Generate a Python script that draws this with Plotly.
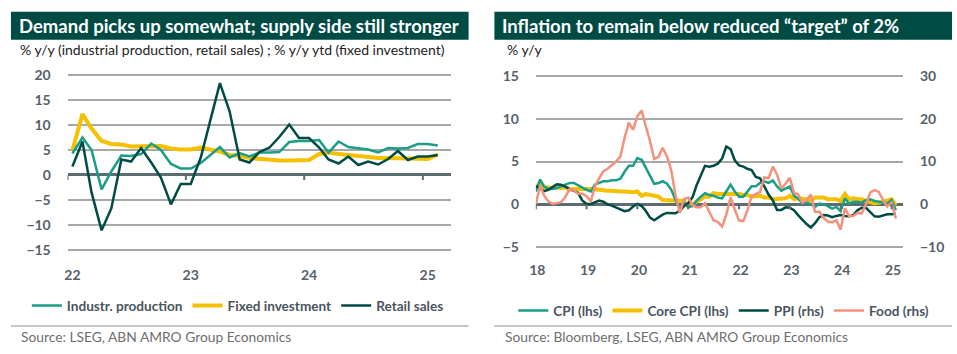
import plotly.graph_objects as go

W, H = 957, 354

# ---------------- data: left chart (China activity) ----------------
left_months = [f"{y}-{m:02d}-16" for y in range(2022, 2026) for m in range(1, 13)][:38]
industr_production = [4.3, 7.5, 5.0, -2.9, 0.7, 3.9, 3.8, 4.2, 6.3, 5.0, 2.2, 1.3,
                      1.3, 2.4, 3.9, 5.6, 3.5, 4.4, 3.7, 4.5, 4.5, 4.6, 6.6, 6.8,
                      6.8, 7.0, 4.5, 6.7, 5.6, 5.3, 5.1, 4.5, 5.4, 5.3, 5.4, 6.2,
                      6.2, 5.9]
fixed_investment = [4.9, 12.2, 9.3, 6.8, 6.2, 6.1, 5.7, 5.8, 5.9, 5.8, 5.3, 5.1,
                    5.1, 5.5, 5.1, 4.7, 4.0, 3.8, 3.4, 3.2, 3.1, 2.9, 2.9, 3.0,
                    3.0, 4.2, 4.5, 4.2, 4.0, 3.9, 3.6, 3.4, 3.4, 3.4, 3.3, 3.2,
                    3.2, 4.1]
retail_sales = [1.7, 6.7, -3.5, -11.1, -6.7, 3.1, 2.7, 5.4, 2.5, -0.5, -5.9, -1.8,
                -1.8, 3.5, 10.6, 18.4, 12.7, 3.1, 2.5, 4.6, 5.5, 7.6, 10.1, 7.4,
                7.4, 5.5, 3.1, 2.3, 3.7, 2.0, 2.7, 2.1, 3.2, 4.8, 3.0, 3.7,
                3.7, 4.0]
left_years = ["2022", "2023", "2024", "2025"]
left_ticktext = ["22", "23", "24", "25"]
left_yticks = [-15, -10, -5, 0, 5, 10, 15, 20]

# ---------------- data: right chart (China inflation) ----------------
right_months = [f"{y}-{m:02d}-01" for y in range(2018, 2026) for m in range(1, 13)][:86]
cpi = [1.5, 2.9, 2.1, 1.8, 1.8, 1.9, 2.1, 2.3, 2.5, 2.5, 2.2, 1.9,
       1.7, 1.5, 2.3, 2.5, 2.7, 2.7, 2.8, 2.8, 3.0, 3.8, 4.5, 4.5,
       5.4, 5.2, 4.3, 3.3, 2.4, 2.5, 2.7, 2.4, 1.7, 0.5, -0.5, 0.2,
       -0.3, -0.2, 0.4, 0.9, 1.3, 1.1, 1.0, 0.8, 0.7, 1.5, 2.3, 1.5,
       0.9, 0.9, 1.5, 2.1, 2.1, 2.5, 2.7, 2.5, 2.8, 2.1, 1.6, 1.8,
       2.1, 1.0, 0.7, 0.1, 0.2, 0.0, -0.3, 0.1, 0.0, -0.2, -0.5, -0.3,
       -0.8, 0.7, 0.1, 0.3, 0.3, 0.2, 0.5, 0.6, 0.4, 0.3, 0.2, 0.1,
       0.5, -0.7]
core_cpi = [1.9, 2.5, 2.0, 1.9, 1.9, 2.0, 1.9, 2.0, 1.7, 1.8, 1.8, 1.8,
            1.9, 1.8, 1.8, 1.7, 1.6, 1.6, 1.6, 1.5, 1.5, 1.5, 1.4, 1.4,
            1.5, 1.0, 1.2, 1.1, 1.1, 0.9, 0.5, 0.5, 0.5, 0.5, 0.5, 0.4,
            -0.3, 0.0, 0.3, 0.7, 0.9, 0.9, 1.3, 1.2, 1.2, 1.3, 1.2, 1.2,
            1.2, 1.1, 1.1, 0.9, 0.9, 1.0, 0.8, 0.8, 0.6, 0.6, 0.6, 0.7,
            1.0, 0.6, 0.7, 0.7, 0.6, 0.4, 0.8, 0.8, 0.8, 0.6, 0.6, 0.6,
            0.4, 1.2, 0.6, 0.7, 0.6, 0.6, 0.4, 0.3, 0.1, 0.2, 0.3, 0.4,
            0.6, -0.1]
ppi = [4.3, 3.7, 3.1, 3.4, 4.1, 4.7, 4.6, 4.1, 3.6, 3.3, 2.7, 0.9,
       0.1, 0.1, 0.4, 0.9, 0.6, 0.0, -0.3, -0.8, -1.2, -1.6, -1.4, -0.5,
       0.1, -0.4, -1.5, -3.1, -3.7, -3.0, -2.4, -2.0, -2.1, -2.1, -1.5, -0.4,
       0.3, 1.7, 4.4, 6.8, 9.0, 8.8, 9.0, 9.5, 10.7, 13.5, 12.9, 10.3,
       9.1, 8.8, 8.3, 8.0, 6.4, 6.1, 4.2, 2.3, 0.9, -1.3, -1.3, -0.7,
       -0.8, -1.4, -2.5, -3.6, -4.6, -5.4, -4.4, -3.0, -2.5, -2.6, -3.0, -2.7,
       -2.5, -2.7, -2.8, -2.5, -1.4, -0.8, -0.8, -1.8, -2.8, -2.9, -2.5, -2.3,
       -2.3, -2.2]
food = [0.0, 4.4, 2.1, 0.7, 0.1, 0.3, 0.5, 1.7, 3.6, 3.3, 2.5, 2.5,
        1.9, 0.7, 4.1, 6.1, 7.7, 8.3, 9.1, 10.0, 11.2, 15.5, 19.1, 17.4,
        20.6, 21.9, 18.3, 14.8, 10.6, 11.1, 13.2, 11.2, 7.9, 2.2, -2.0, 1.2,
        1.6, -0.2, -0.7, -0.7, 0.3, -1.7, -3.7, -4.1, -5.2, -2.4, 1.6, -1.2,
        -3.8, -3.9, -1.5, 1.9, 2.3, 2.9, 6.3, 6.1, 8.8, 7.0, 3.7, 4.8,
        6.2, 2.6, 2.4, 0.4, 1.0, 2.3, -1.7, -1.7, -3.2, -4.0, -4.2, -3.7,
        -5.9, -0.9, -2.7, -2.7, -2.0, -2.1, 0.0, 2.8, 3.3, 2.9, 1.0, -0.5,
        0.4, -3.3]
right_years = ["2018", "2019", "2020", "2021", "2022", "2023", "2024", "2025"]
right_ticktext = ["18", "19", "20", "21", "22", "23", "24", "25"]
lhs_yticks = [-5, 0, 5, 10, 15]
rhs_yticks = [-10, 0, 10, 20, 30]

# ---------------- style ----------------
TEAL = "#1a9e86"
YELLOW = "#f5c000"
DARK = "#004c45"
SALMON = "#f2917c"
BAR = "#004c45"
GRID = "#a8a8a8"
ZERO = "#5d6b73"
TICK = "#56616b"
FONT = "Lato"
CLEAR = "rgba(0,0,0,0)"

def px_x(p):
    return p / W

def px_y(p):
    return 1 - p / H

fig = go.Figure()

# left chart traces
fig.add_trace(go.Scatter(x=left_months, y=fixed_investment, name="Fixed investment",
                         mode="lines", line=dict(color=YELLOW, width=4), xaxis="x", yaxis="y",
                         legend="legend", legendrank=2))
fig.add_trace(go.Scatter(x=left_months, y=industr_production, name="Industr. production",
                         mode="lines", line=dict(color=TEAL, width=2.5), xaxis="x", yaxis="y",
                         legend="legend", legendrank=1))
fig.add_trace(go.Scatter(x=left_months, y=retail_sales, name="Retail sales",
                         mode="lines", line=dict(color=DARK, width=2.5), xaxis="x", yaxis="y",
                         legend="legend", legendrank=3))

# right chart traces
fig.add_trace(go.Scatter(x=right_months, y=core_cpi, name="Core CPI (lhs)",
                         mode="lines", line=dict(color=YELLOW, width=4), xaxis="x2", yaxis="y2",
                         legend="legend2", legendrank=2))
fig.add_trace(go.Scatter(x=right_months, y=cpi, name="CPI (lhs)",
                         mode="lines", line=dict(color=TEAL, width=2.5), xaxis="x2", yaxis="y2",
                         legend="legend2", legendrank=1))
fig.add_trace(go.Scatter(x=right_months, y=ppi, name="PPI (rhs)",
                         mode="lines", line=dict(color=DARK, width=2.5), xaxis="x2", yaxis="y3",
                         legend="legend2", legendrank=3))
fig.add_trace(go.Scatter(x=right_months, y=food, name="Food (rhs)",
                         mode="lines", line=dict(color=SALMON, width=2.5), xaxis="x2", yaxis="y3",
                         legend="legend2", legendrank=4))

tickfont = dict(family=FONT, size=14, color=TICK, weight="bold")

shapes = []
annotations = []

# title bars
for (x0, x1) in [(4, 465), (491, 952)]:
    shapes.append(dict(type="rect", xref="paper", yref="paper",
                       x0=px_x(x0), x1=px_x(x1), y0=px_y(33), y1=px_y(4),
                       fillcolor=BAR, line=dict(width=0), layer="below"))
# separator lines
for (x0, x1) in [(4, 465), (491, 952)]:
    shapes.append(dict(type="line", xref="paper", yref="paper",
                       x0=px_x(x0), x1=px_x(x1), y0=px_y(331), y1=px_y(331),
                       line=dict(color="#c6c6c6", width=2)))
# x tick marks on the zero line
for yr in left_years:
    shapes.append(dict(type="line", xref="x", yref="y", x0=f"{yr}-01-01", x1=f"{yr}-01-01",
                       ysizemode="pixel", yanchor=0, y0=0, y1=-5,
                       line=dict(color=ZERO, width=2)))
for yr in right_years:
    shapes.append(dict(type="line", xref="x2", yref="y2", x0=f"{yr}-01-01", x1=f"{yr}-01-01",
                       ysizemode="pixel", yanchor=0, y0=0, y1=-5,
                       line=dict(color=ZERO, width=2)))

annotations += [
    dict(text="<b>Demand picks up somewhat; supply side still stronger</b>", xref="paper", yref="paper",
         x=px_x(10), y=px_y(19), xanchor="left", yanchor="middle", showarrow=False,
         font=dict(family=FONT, size=18.5, color="white")),
    dict(text="<b>Inflation to remain below reduced \u201ctarget\u201d of 2%</b>", xref="paper", yref="paper",
         x=px_x(497), y=px_y(19), xanchor="left", yanchor="middle", showarrow=False,
         font=dict(family=FONT, size=18.5, color="white")),
    dict(text="% y/y (industrial production, retail sales) ; % y/y ytd (fixed investment)",
         xref="paper", yref="paper", x=px_x(11), y=px_y(43), xanchor="left", yanchor="middle",
         showarrow=False, font=dict(family=FONT, size=14, color="#222222")),
    dict(text="% y/y", xref="paper", yref="paper", x=px_x(502), y=px_y(43), xanchor="left",
         yanchor="middle", showarrow=False, font=dict(family=FONT, size=14, color="#222222")),
    dict(text="Source: LSEG, ABN AMRO Group Economics", xref="paper", yref="paper",
         x=px_x(12), y=px_y(342), xanchor="left", yanchor="middle", showarrow=False,
         font=dict(family=FONT, size=13.8, color="#6e6e6e")),
    dict(text="Source: Bloomberg, LSEG, ABN AMRO Group Economics", xref="paper", yref="paper",
         x=px_x(500), y=px_y(342), xanchor="left", yanchor="middle", showarrow=False,
         font=dict(family=FONT, size=13.8, color="#6e6e6e")),
]

legend_font = dict(family=FONT, size=13.6, color="#4a5560", weight="bold")

yaxis_common = dict(ticks="outside", ticklen=13, tickcolor=CLEAR, showline=False,
                    tickfont=tickfont)

fig.update_layout(
    width=W, height=H,
    margin=dict(l=0, r=0, t=0, b=0),
    paper_bgcolor="white", plot_bgcolor="white",
    showlegend=True,
    xaxis=dict(domain=[px_x(61), px_x(447)], type="date", range=["2022-01-01", "2025-03-28"],
               tickvals=[f"{y}-01-16" for y in left_years], ticktext=left_ticktext,
               ticks="", showgrid=False, showline=False, zeroline=False,
               tickfont=tickfont, ticklabelstandoff=14, anchor="y"),
    yaxis=dict(domain=[px_y(253.3), px_y(68.4)], range=[-15.3, 20.3], tickvals=left_yticks,
               showgrid=True, gridcolor=GRID, gridwidth=1.5,
               zeroline=True, zerolinecolor=ZERO, zerolinewidth=2.5,
               anchor="x", **yaxis_common),
    xaxis2=dict(domain=[px_x(532.7), px_x(902.7)], type="date", range=["2018-01-01", "2025-03-25"],
                tickvals=[f"{y}-01-12" for y in right_years], ticktext=right_ticktext,
                ticks="", showgrid=False, showline=False, zeroline=False,
                tickfont=tickfont, ticklabelstandoff=11, anchor="y2"),
    yaxis2=dict(domain=[px_y(250.8), px_y(68.9)], range=[-5.2, 15.2], tickvals=lhs_yticks,
                showgrid=True, gridcolor=GRID, gridwidth=1.5,
                zeroline=True, zerolinecolor=ZERO, zerolinewidth=2.5,
                anchor="x2", **yaxis_common),
    yaxis3=dict(domain=[px_y(250.8), px_y(68.9)], range=[-10.4, 30.4], tickvals=rhs_yticks,
                overlaying="y2", side="right", anchor="x2",
                showgrid=False, zeroline=False, **yaxis_common),
    legend=dict(orientation="h", x=px_x(20), xanchor="left", y=px_y(310), yanchor="middle",
                font=legend_font, bgcolor="rgba(0,0,0,0)", traceorder="normal"),
    legend2=dict(orientation="h", x=px_x(510), xanchor="left", y=px_y(315), yanchor="middle",
                 font=legend_font, bgcolor="rgba(0,0,0,0)", traceorder="normal"),
    shapes=shapes,
    annotations=annotations,
)

fig.write_html("out.html")
